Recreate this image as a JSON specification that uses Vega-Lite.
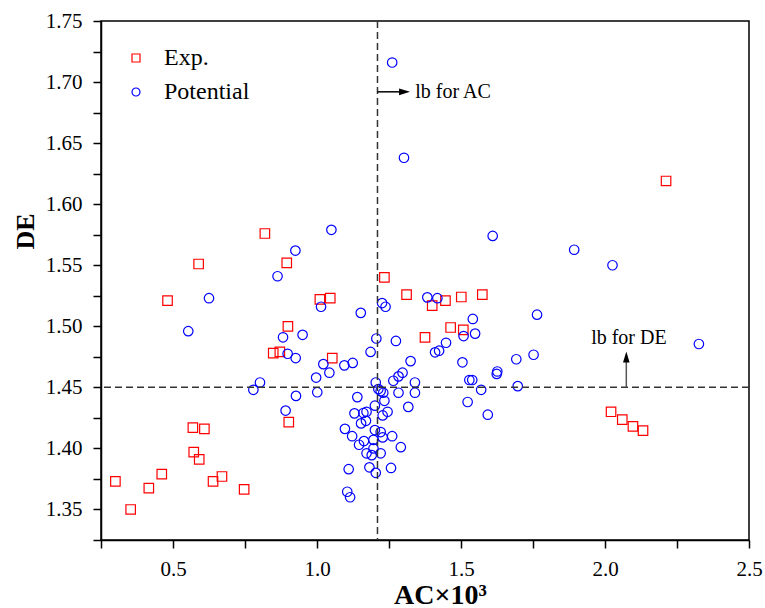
{
  "$schema": "https://vega.github.io/schema/vega-lite/v6.json",
  "width": 648,
  "height": 519,
  "autosize": "none",
  "padding": {"left": 101, "top": 21, "right": 16, "bottom": 68},
  "background": "white",
  "config": {
    "view": {"stroke": "#000", "strokeWidth": 1.5},
    "font": "Liberation Serif"
  },
  "layer": [
    {
      "data": {"values": [
        {"s": "Exp.", "AC": 0.300, "DE": 1.373},
        {"s": "Exp.", "AC": 0.353, "DE": 1.350},
        {"s": "Exp.", "AC": 0.416, "DE": 1.3675},
        {"s": "Exp.", "AC": 0.461, "DE": 1.379},
        {"s": "Exp.", "AC": 0.481, "DE": 1.521},
        {"s": "Exp.", "AC": 0.569, "DE": 1.417},
        {"s": "Exp.", "AC": 0.572, "DE": 1.397},
        {"s": "Exp.", "AC": 0.589, "DE": 1.551},
        {"s": "Exp.", "AC": 0.591, "DE": 1.391},
        {"s": "Exp.", "AC": 0.609, "DE": 1.416},
        {"s": "Exp.", "AC": 0.639, "DE": 1.373},
        {"s": "Exp.", "AC": 0.670, "DE": 1.377},
        {"s": "Exp.", "AC": 0.747, "DE": 1.3665},
        {"s": "Exp.", "AC": 0.819, "DE": 1.576},
        {"s": "Exp.", "AC": 0.848, "DE": 1.478},
        {"s": "Exp.", "AC": 0.871, "DE": 1.479},
        {"s": "Exp.", "AC": 0.895, "DE": 1.552},
        {"s": "Exp.", "AC": 0.899, "DE": 1.500},
        {"s": "Exp.", "AC": 0.902, "DE": 1.4216},
        {"s": "Exp.", "AC": 1.010, "DE": 1.522},
        {"s": "Exp.", "AC": 1.046, "DE": 1.523},
        {"s": "Exp.", "AC": 1.053, "DE": 1.474},
        {"s": "Exp.", "AC": 1.234, "DE": 1.540},
        {"s": "Exp.", "AC": 1.311, "DE": 1.526},
        {"s": "Exp.", "AC": 1.375, "DE": 1.491},
        {"s": "Exp.", "AC": 1.400, "DE": 1.517},
        {"s": "Exp.", "AC": 1.446, "DE": 1.521},
        {"s": "Exp.", "AC": 1.464, "DE": 1.499},
        {"s": "Exp.", "AC": 1.501, "DE": 1.524},
        {"s": "Exp.", "AC": 1.508, "DE": 1.497},
        {"s": "Exp.", "AC": 1.574, "DE": 1.526},
        {"s": "Exp.", "AC": 2.021, "DE": 1.430},
        {"s": "Exp.", "AC": 2.060, "DE": 1.4235},
        {"s": "Exp.", "AC": 2.097, "DE": 1.418},
        {"s": "Exp.", "AC": 2.132, "DE": 1.4145},
        {"s": "Exp.", "AC": 2.212, "DE": 1.619},
        {"s": "Potential", "AC": 0.553, "DE": 1.496},
        {"s": "Potential", "AC": 0.625, "DE": 1.523},
        {"s": "Potential", "AC": 0.779, "DE": 1.448},
        {"s": "Potential", "AC": 0.802, "DE": 1.454},
        {"s": "Potential", "AC": 0.863, "DE": 1.541},
        {"s": "Potential", "AC": 0.882, "DE": 1.491},
        {"s": "Potential", "AC": 0.891, "DE": 1.431},
        {"s": "Potential", "AC": 0.898, "DE": 1.4775},
        {"s": "Potential", "AC": 0.925, "DE": 1.562},
        {"s": "Potential", "AC": 0.926, "DE": 1.474},
        {"s": "Potential", "AC": 0.927, "DE": 1.443},
        {"s": "Potential", "AC": 0.950, "DE": 1.493},
        {"s": "Potential", "AC": 0.997, "DE": 1.458},
        {"s": "Potential", "AC": 1.001, "DE": 1.446},
        {"s": "Potential", "AC": 1.014, "DE": 1.516},
        {"s": "Potential", "AC": 1.022, "DE": 1.469},
        {"s": "Potential", "AC": 1.043, "DE": 1.462},
        {"s": "Potential", "AC": 1.050, "DE": 1.579},
        {"s": "Potential", "AC": 1.095, "DE": 1.468},
        {"s": "Potential", "AC": 1.097, "DE": 1.416},
        {"s": "Potential", "AC": 1.105, "DE": 1.3645},
        {"s": "Potential", "AC": 1.110, "DE": 1.383},
        {"s": "Potential", "AC": 1.115, "DE": 1.360},
        {"s": "Potential", "AC": 1.122, "DE": 1.410},
        {"s": "Potential", "AC": 1.124, "DE": 1.470},
        {"s": "Potential", "AC": 1.130, "DE": 1.4287},
        {"s": "Potential", "AC": 1.140, "DE": 1.442},
        {"s": "Potential", "AC": 1.146, "DE": 1.403},
        {"s": "Potential", "AC": 1.152, "DE": 1.511},
        {"s": "Potential", "AC": 1.153, "DE": 1.4205},
        {"s": "Potential", "AC": 1.161, "DE": 1.429},
        {"s": "Potential", "AC": 1.163, "DE": 1.406},
        {"s": "Potential", "AC": 1.170, "DE": 1.4226},
        {"s": "Potential", "AC": 1.172, "DE": 1.430},
        {"s": "Potential", "AC": 1.172, "DE": 1.396},
        {"s": "Potential", "AC": 1.182, "DE": 1.3845},
        {"s": "Potential", "AC": 1.186, "DE": 1.479},
        {"s": "Potential", "AC": 1.190, "DE": 1.3945},
        {"s": "Potential", "AC": 1.196, "DE": 1.407},
        {"s": "Potential", "AC": 1.196, "DE": 1.400},
        {"s": "Potential", "AC": 1.201, "DE": 1.435},
        {"s": "Potential", "AC": 1.201, "DE": 1.415},
        {"s": "Potential", "AC": 1.204, "DE": 1.454},
        {"s": "Potential", "AC": 1.204, "DE": 1.380},
        {"s": "Potential", "AC": 1.206, "DE": 1.490},
        {"s": "Potential", "AC": 1.213, "DE": 1.4486},
        {"s": "Potential", "AC": 1.221, "DE": 1.447},
        {"s": "Potential", "AC": 1.221, "DE": 1.4134},
        {"s": "Potential", "AC": 1.221, "DE": 1.396},
        {"s": "Potential", "AC": 1.226, "DE": 1.519},
        {"s": "Potential", "AC": 1.228, "DE": 1.427},
        {"s": "Potential", "AC": 1.228, "DE": 1.409},
        {"s": "Potential", "AC": 1.230, "DE": 1.4456},
        {"s": "Potential", "AC": 1.234, "DE": 1.439},
        {"s": "Potential", "AC": 1.238, "DE": 1.516},
        {"s": "Potential", "AC": 1.245, "DE": 1.430},
        {"s": "Potential", "AC": 1.257, "DE": 1.384},
        {"s": "Potential", "AC": 1.261, "DE": 1.716},
        {"s": "Potential", "AC": 1.261, "DE": 1.410},
        {"s": "Potential", "AC": 1.265, "DE": 1.4554},
        {"s": "Potential", "AC": 1.274, "DE": 1.488},
        {"s": "Potential", "AC": 1.283, "DE": 1.459},
        {"s": "Potential", "AC": 1.283, "DE": 1.4456},
        {"s": "Potential", "AC": 1.291, "DE": 1.401},
        {"s": "Potential", "AC": 1.297, "DE": 1.462},
        {"s": "Potential", "AC": 1.302, "DE": 1.638},
        {"s": "Potential", "AC": 1.317, "DE": 1.434},
        {"s": "Potential", "AC": 1.325, "DE": 1.4715},
        {"s": "Potential", "AC": 1.340, "DE": 1.454},
        {"s": "Potential", "AC": 1.340, "DE": 1.4456},
        {"s": "Potential", "AC": 1.383, "DE": 1.5237},
        {"s": "Potential", "AC": 1.410, "DE": 1.4787},
        {"s": "Potential", "AC": 1.418, "DE": 1.523},
        {"s": "Potential", "AC": 1.424, "DE": 1.480},
        {"s": "Potential", "AC": 1.448, "DE": 1.4865},
        {"s": "Potential", "AC": 1.505, "DE": 1.4705},
        {"s": "Potential", "AC": 1.509, "DE": 1.492},
        {"s": "Potential", "AC": 1.523, "DE": 1.438},
        {"s": "Potential", "AC": 1.529, "DE": 1.456},
        {"s": "Potential", "AC": 1.539, "DE": 1.456},
        {"s": "Potential", "AC": 1.541, "DE": 1.506},
        {"s": "Potential", "AC": 1.549, "DE": 1.494},
        {"s": "Potential", "AC": 1.570, "DE": 1.448},
        {"s": "Potential", "AC": 1.593, "DE": 1.4276},
        {"s": "Potential", "AC": 1.610, "DE": 1.574},
        {"s": "Potential", "AC": 1.624, "DE": 1.461},
        {"s": "Potential", "AC": 1.626, "DE": 1.463},
        {"s": "Potential", "AC": 1.692, "DE": 1.473},
        {"s": "Potential", "AC": 1.697, "DE": 1.451},
        {"s": "Potential", "AC": 1.752, "DE": 1.4767},
        {"s": "Potential", "AC": 1.764, "DE": 1.5095},
        {"s": "Potential", "AC": 1.893, "DE": 1.5627},
        {"s": "Potential", "AC": 2.026, "DE": 1.550},
        {"s": "Potential", "AC": 2.326, "DE": 1.4855}
      ]},
      "mark": {"type": "point", "filled": false, "size": 90, "strokeWidth": 1.2, "opacity": 1},
      "encoding": {
        "x": {
          "field": "AC", "type": "quantitative",
          "scale": {"domain": [0.25, 2.5], "nice": false, "zero": false},
          "axis": {
            "title": "AC×10³",
            "titleFont": "Liberation Serif", "titleFontWeight": "bold", "titleFontSize": 28, "titleColor": "#000",
            "titleX": 339, "titleY": 63, "titleBaseline": "alphabetic", "titleAnchor": "middle", "titleAlign": "center",
            "values": [0.25, 0.5, 0.75, 1.0, 1.25, 1.5, 1.75, 2.0, 2.25, 2.5],
            "tickCount": 40,
            "labelExpr": "abs(datum.value*2 - round(datum.value*2)) < 0.001 ? format(datum.value, '.1f') : ''",
            "labelFont": "Liberation Serif", "labelFontSize": 21, "labelColor": "#000",
            "labelPadding": 10, "labelOverlap": false, "labelFlush": false, "labelBound": false,
            "tickSize": 8, "tickColor": "#000", "tickWidth": 1.5,
            "domainColor": "#000", "domainWidth": 1.5, "grid": false,
            "encode": {"ticks": {"update": {"y2": {"signal": "abs(datum.value*2 - round(datum.value*2)) < 0.001 ? 8 : 4"}}}}
          }
        },
        "y": {
          "field": "DE", "type": "quantitative",
          "scale": {"domain": [1.325, 1.75], "nice": false, "zero": false},
          "axis": {
            "title": "DE",
            "titleFont": "Liberation Serif", "titleFontWeight": "bold", "titleFontSize": 26, "titleColor": "#000",
            "titleX": -76, "titleY": 210, "titleAngle": -90, "titleBaseline": "middle", "titleAlign": "center",
            "values": [1.325, 1.35, 1.375, 1.4, 1.425, 1.45, 1.475, 1.5, 1.525, 1.55, 1.575, 1.6, 1.625, 1.65, 1.675, 1.7, 1.725, 1.75],
            "tickCount": 40,
            "labelExpr": "abs(datum.value*20 - round(datum.value*20)) < 0.001 ? format(datum.value, '.2f') : ''",
            "labelFont": "Liberation Serif", "labelFontSize": 21, "labelColor": "#000",
            "labelPadding": 11, "labelOverlap": false, "labelFlush": false, "labelBound": false,
            "tickSize": 8, "tickColor": "#000", "tickWidth": 1.5,
            "domainColor": "#000", "domainWidth": 1.5, "grid": false,
            "encode": {"ticks": {"update": {"x2": {"signal": "abs(datum.value*20 - round(datum.value*20)) < 0.001 ? -9 : -4.5"}}}}
          }
        },
        "color": {
          "field": "s", "type": "nominal",
          "scale": {"domain": ["Exp.", "Potential"], "range": ["#ff0000", "#0000ff"]},
          "legend": {
            "title": null, "orient": "none", "legendX": 23, "legendY": 25,
            "labelFont": "Liberation Serif", "labelFontSize": 24, "labelColor": "#000",
            "symbolSize": 64, "symbolStrokeWidth": 1.2, "labelOffset": 16, "rowPadding": 10, "padding": 0
          }
        },
        "shape": {
          "field": "s", "type": "nominal",
          "scale": {"domain": ["Exp.", "Potential"], "range": ["square", "circle"]},
          "legend": {
            "title": null, "orient": "none", "legendX": 23, "legendY": 25,
            "labelFont": "Liberation Serif", "labelFontSize": 24, "labelColor": "#000",
            "symbolSize": 64, "symbolStrokeWidth": 1.2, "labelOffset": 16, "rowPadding": 10, "padding": 0
          }
        }
      }
    },
    {
      "data": {"values": [{"AC": 1.21}]},
      "mark": {"type": "rule", "color": "#333", "strokeWidth": 1.5, "strokeDash": [7, 4]},
      "encoding": {"x": {"field": "AC", "type": "quantitative"}}
    },
    {
      "data": {"values": [{"DE": 1.45}]},
      "mark": {"type": "rule", "color": "#333", "strokeWidth": 1.5, "strokeDash": [7, 4]},
      "encoding": {"y": {"field": "DE", "type": "quantitative"}}
    },
    {
      "data": {"values": [{"AC": 1.21, "AC2": 1.3, "DE": 1.692}]},
      "mark": {"type": "rule", "color": "#000", "strokeWidth": 1.5},
      "encoding": {
        "x": {"field": "AC", "type": "quantitative"},
        "x2": {"field": "AC2"},
        "y": {"field": "DE", "type": "quantitative"}
      }
    },
    {
      "data": {"values": [{"AC": 1.304, "DE": 1.692}]},
      "mark": {"type": "point", "shape": "M-1,-0.6L1,0L-1,0.6Z", "filled": true, "color": "#000", "size": 121, "opacity": 1},
      "encoding": {
        "x": {"field": "AC", "type": "quantitative"},
        "y": {"field": "DE", "type": "quantitative"}
      }
    },
    {
      "data": {"values": [{"AC": 2.074, "DE": 1.45, "DE2": 1.472}]},
      "mark": {"type": "rule", "color": "#555", "strokeWidth": 1.5},
      "encoding": {
        "x": {"field": "AC", "type": "quantitative"},
        "y": {"field": "DE", "type": "quantitative"},
        "y2": {"field": "DE2"}
      }
    },
    {
      "data": {"values": [{"AC": 2.074, "DE": 1.4748}]},
      "mark": {"type": "point", "shape": "M-0.6,1L0,-1L0.6,1Z", "filled": true, "color": "#000", "size": 121, "opacity": 1},
      "encoding": {
        "x": {"field": "AC", "type": "quantitative"},
        "y": {"field": "DE", "type": "quantitative"}
      }
    },
    {
      "data": {"values": [{"AC": 1.341, "DE": 1.6867, "t": "lb for AC"}]},
      "mark": {"type": "text", "align": "left", "baseline": "alphabetic", "fontSize": 20, "font": "Liberation Serif", "color": "#000"},
      "encoding": {
        "x": {"field": "AC", "type": "quantitative"},
        "y": {"field": "DE", "type": "quantitative"},
        "text": {"field": "t"}
      }
    },
    {
      "data": {"values": [{"AC": 2.083, "DE": 1.4855, "t": "lb for DE"}]},
      "mark": {"type": "text", "align": "center", "baseline": "alphabetic", "fontSize": 20, "font": "Liberation Serif", "color": "#000"},
      "encoding": {
        "x": {"field": "AC", "type": "quantitative"},
        "y": {"field": "DE", "type": "quantitative"},
        "text": {"field": "t"}
      }
    }
  ]
}
